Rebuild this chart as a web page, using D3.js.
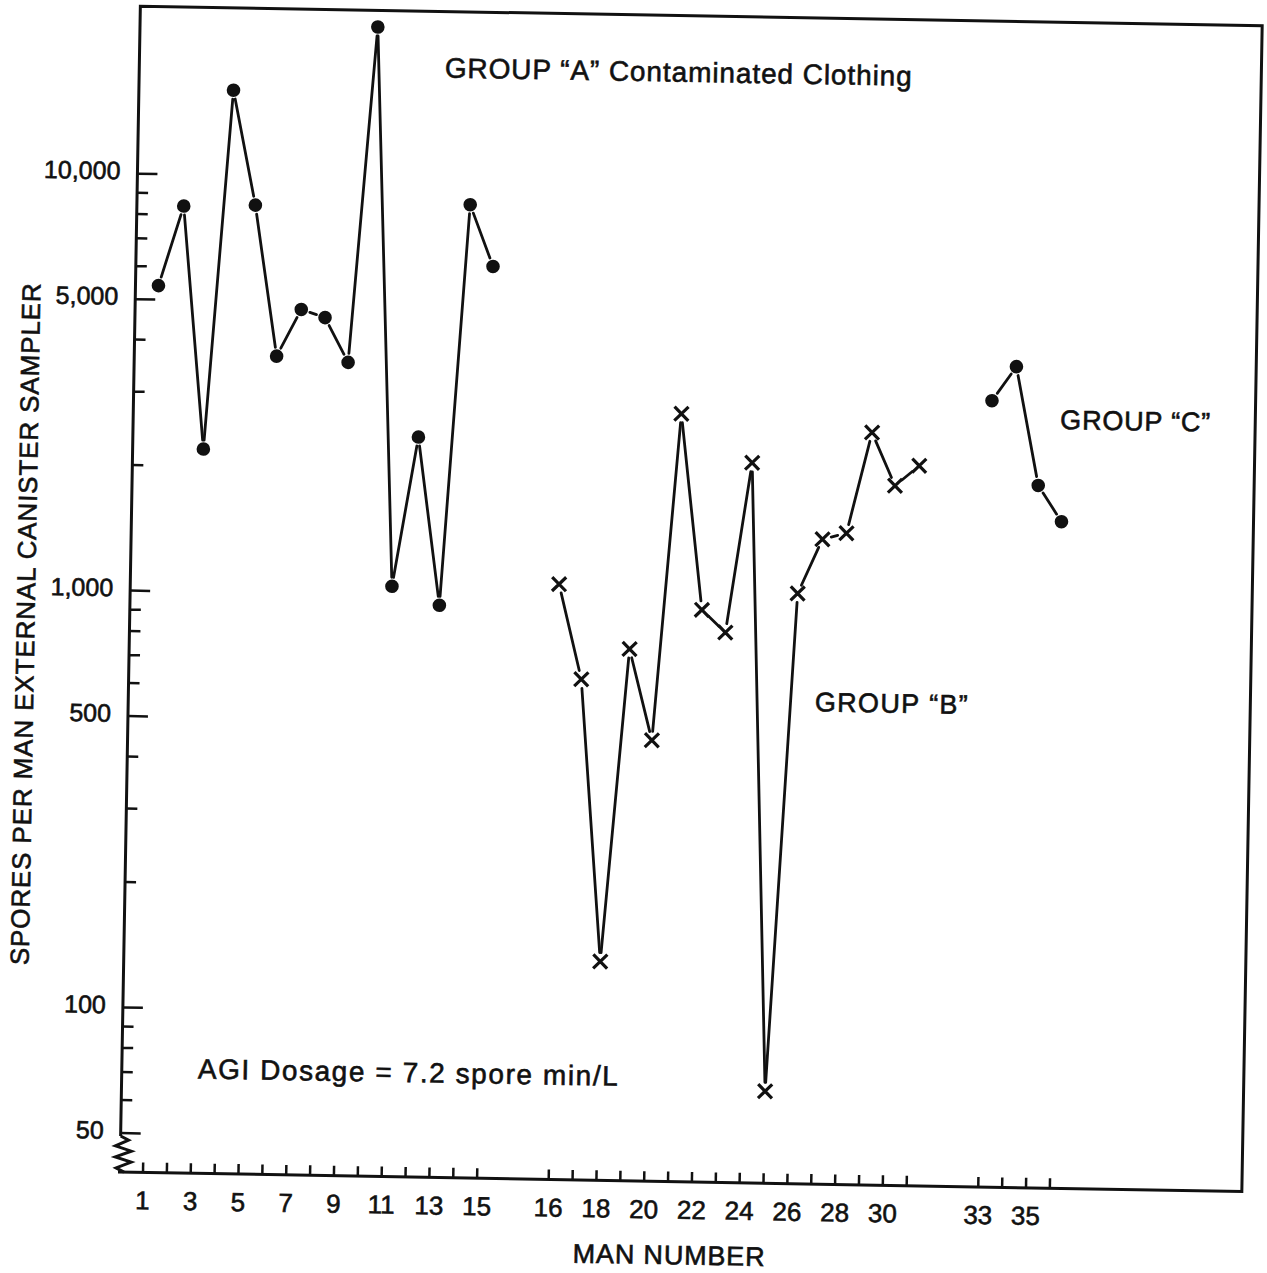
<!DOCTYPE html>
<html>
<head>
<meta charset="utf-8">
<script src="https://cdn.jsdelivr.net/npm/d3@7"></script>
<style>
  body { margin: 0; background: #fff; }
  svg { display: block; font-family: "Liberation Sans", Arial, Helvetica, sans-serif; }
  .frame { fill: none; stroke: #111; stroke-width: 3; stroke-linejoin: miter; }
  .tick { stroke: #111; stroke-width: 2.5; }
  .link { stroke: #111; stroke-width: 2.8; stroke-linecap: round; }
  .cross { stroke: #111; stroke-width: 3.2; }
  .dot { fill: #111; }
  text { fill: #111; stroke: #111; stroke-width: 0.6; }
</style>
</head>
<body>
<svg id="chart" width="1267" height="1273"></svg>
<script>
// group A: contaminated clothing (dots)
const menA = [1, 2, 3, 4, 5, 6, 7, 8, 9, 10, 11, 12, 13, 14, 15];
const sporesA = [5400, 8400, 2200, 16000, 8500, 3700, 4800, 4600, 3600, 23000, 1050, 2400, 950, 8700, 6200];

// group B (crosses)
const menB = [16, 17, 18, 19, 20, 21, 22, 23, 24, 25, 26, 27, 28, 29, 30, 31];
const sporesB = [1080, 640, 135, 760, 460, 2800, 950, 840, 2150, 67, 1050, 1420, 1470, 2570, 1920, 2150];

// group C (dots)
const menC = [33, 34, 35, 36];
const sporesC = [3100, 3750, 1950, 1600];

const xTickMen = [1, 2, 3, 4, 5, 6, 7, 8, 9, 10, 11, 12, 13, 14, 15,
  16, 17, 18, 19, 20, 21, 22, 23, 24, 25, 26, 27, 28, 29, 30, 31,
  33, 34, 35, 36];
const xLabelMen = [1, 3, 5, 7, 9, 11, 13, 15, 16, 18, 20, 22, 24, 26, 28, 30, 33, 35];

const yMajor = [50, 100, 500, 1000, 5000, 10000];
const yMinor = [60, 70, 80, 90, 200, 300, 400, 600, 700, 800, 900,
  2000, 3000, 4000, 6000, 7000, 8000, 9000];

const FRAME = { left: 120, right: 1242, top: 6, bottom: 1172 };
const GAP = 9; // hand-drawn lines stop short of the markers

// men are laid out in slots; the groups are separated by empty slots
function slot(man) {
  if (man <= 15) return man - 1;
  if (man <= 31) return man + 1;
  return man + 2;
}

const svg = d3.select("#chart");
// the scanned page sits about one degree off square
const g = svg.append("g")
  .attr("transform", `rotate(1, ${FRAME.left}, ${FRAME.bottom})`);

const x = d3.scaleLinear([0, 38], [143, 1050]);
const y = d3.scaleLog([100, 10000], [1007.5, 173.5]);

// frame with an axis break at the bottom left
g.append("path")
  .attr("class", "frame")
  .attr("d", `M${FRAME.left},1136 V${FRAME.top} H${FRAME.right} V${FRAME.bottom} H${FRAME.left - 2}`);
g.append("path")
  .attr("class", "frame")
  .attr("stroke-width", 2.5)
  .attr("d", `M${FRAME.left},1136 L128,1140 L115,1146 L131,1151 L115,1157 L131,1162 L116,1168 L124,1172`);

// y ticks
g.append("g")
  .selectAll("line")
  .data(yMajor.concat(yMinor))
  .join("line")
  .attr("class", "tick")
  .attr("x1", FRAME.left)
  .attr("x2", (d) => FRAME.left + (yMajor.includes(d) ? 20 : 11))
  .attr("y1", (d) => y(d))
  .attr("y2", (d) => y(d));

g.append("g")
  .attr("text-anchor", "end")
  .style("font-size", "25px")
  .selectAll("text")
  .data(yMajor)
  .join("text")
  .attr("x", FRAME.left - 17)
  .attr("y", (d) => y(d) - 3 + 9)
  .text((d) => d3.format(",")(d));

// x ticks
g.append("g")
  .selectAll("line")
  .data(xTickMen)
  .join("line")
  .attr("class", "tick")
  .attr("x1", (d) => x(slot(d)))
  .attr("x2", (d) => x(slot(d)))
  .attr("y1", FRAME.bottom)
  .attr("y2", FRAME.bottom - 10);

g.append("g")
  .attr("text-anchor", "middle")
  .style("font-size", "26px")
  .selectAll("text")
  .data(xLabelMen)
  .join("text")
  .attr("x", (d) => x(slot(d)))
  .attr("y", FRAME.bottom + 37)
  .text((d) => d);

function series(men, values, marker) {
  const pts = men.map((m, i) => [x(slot(m)), y(values[i])]);
  const s = g.append("g");

  s.selectAll("line")
    .data(d3.pairs(pts))
    .join("line")
    .attr("class", "link")
    .each(function ([a, b]) {
      const dx = b[0] - a[0];
      const dy = b[1] - a[1];
      const len = Math.hypot(dx, dy);
      const ux = dx / len, uy = dy / len;
      d3.select(this)
        .attr("x1", a[0] + ux * GAP)
        .attr("y1", a[1] + uy * GAP)
        .attr("x2", b[0] - ux * GAP)
        .attr("y2", b[1] - uy * GAP);
    });

  if (marker === "dot") {
    s.selectAll("circle")
      .data(pts)
      .join("circle")
      .attr("class", "dot")
      .attr("cx", (d) => d[0])
      .attr("cy", (d) => d[1])
      .attr("r", 6.8);
  } else {
    s.selectAll("path")
      .data(pts)
      .join("path")
      .attr("class", "cross")
      .attr("d", (d) => {
        const r = 7;
        return `M${d[0] - r},${d[1] - r}L${d[0] + r},${d[1] + r}M${d[0] + r},${d[1] - r}L${d[0] - r},${d[1] + r}`;
      });
  }
}

series(menA, sporesA, "dot");
series(menB, sporesB, "cross");
series(menC, sporesC, "dot");

// annotations
function note(text, cx, cy, size, width) {
  return g.append("text")
    .attr("x", cx)
    .attr("y", cy + size * 0.36)
    .attr("text-anchor", "middle")
    .attr("textLength", width)
    .attr("lengthAdjust", "spacing")
    .style("font-size", `${size}px`)
    .text(text);
}

note("GROUP \u201CA\u201D Contaminated Clothing", 659, 62, 28, 467);
note("GROUP \u201CB\u201D", 883, 689.5, 27, 153);
note("GROUP \u201CC\u201D", 1122, 403, 27, 150);
note("AGI Dosage = 7.2 spore min/L", 406, 1067, 28, 420);
note("MAN NUMBER", 670, 1245, 27, 192);

g.append("text")
  .attr("transform", "translate(25, 626) rotate(-90)")
  .attr("text-anchor", "middle")
  .attr("textLength", 682)
  .attr("lengthAdjust", "spacing")
  .style("font-size", "26px")
  .text("SPORES PER MAN EXTERNAL CANISTER SAMPLER");
</script>
</body>
</html>
